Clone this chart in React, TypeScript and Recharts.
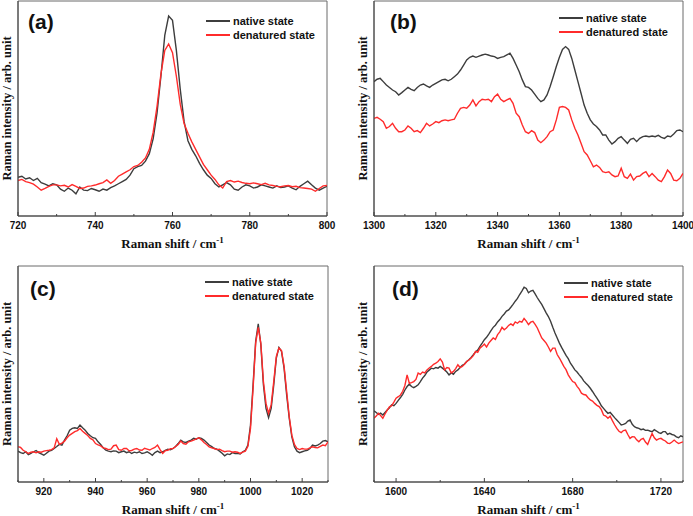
import { LineChart, Line, XAxis, YAxis, ReferenceArea, Legend } from 'recharts'

// sampling grid of each spectrum (1 cm-1 steps)
const span = (from: number, to: number) => Array.from({ length: to - from + 1 }, (_, i) => from + i)

// (a) 720-800 cm-1
const shiftA = span(720, 800)
const nativeA = [
  18.0, 18.5, 17.2, 17.8, 16.5, 17.5, 15.5, 14.8, 14.0, 15.0,
  14.5, 12.5, 11.5, 13.0, 12.0, 10.3, 13.5, 12.0, 11.8, 12.8,
  12.2, 11.5, 12.5, 12.0, 13.2, 14.0, 15.0, 16.0, 17.0, 19.0,
  22.0, 23.0, 23.5, 25.5, 29.0, 36.0, 48.0, 65.0, 84.0, 93.0,
  91.0, 77.0, 59.0, 44.0, 35.0, 31.0, 28.0, 24.5, 21.5, 19.0,
  17.5, 15.0, 13.5, 14.5, 15.5, 14.5, 12.5, 12.0, 13.5, 14.5,
  14.0, 13.0, 13.5, 14.5, 14.0, 13.5, 13.0, 14.0, 13.2, 13.5,
  14.0, 13.0, 12.2, 13.8, 15.0, 16.2, 14.5, 13.0, 12.0, 13.0,
  13.8,
]
const denaturedA = [
  16.5, 17.0, 16.0, 15.5, 14.8, 13.5, 12.0, 12.8, 13.8, 14.5,
  14.5, 14.0, 14.3, 13.5, 14.6, 13.8, 12.8, 13.0, 13.8, 14.0,
  14.4, 15.0, 15.5, 16.8, 15.2, 16.5, 18.5, 19.5, 20.5, 21.5,
  23.0, 23.5, 25.0, 27.0, 31.0, 39.0, 51.0, 66.0, 77.0, 80.0,
  76.0, 65.0, 52.0, 43.0, 38.5, 34.5, 31.0, 27.5, 24.0, 21.5,
  19.0, 17.0, 14.5, 13.0, 16.0, 16.5, 15.8, 16.2, 15.6, 15.2,
  15.0, 15.4, 15.0, 14.6, 15.2, 14.5, 14.2, 13.8, 13.6, 14.0,
  14.2, 13.6, 13.8, 13.2, 13.0, 12.8, 12.5, 11.5, 12.8, 14.0,
  14.2,
]
const ticksA = [720, 730, 740, 750, 760, 770, 780, 790, 800]
const majorA = [720, 740, 760, 780, 800]

// (b) 1300-1400 cm-1
const shiftB = span(1300, 1400)
const nativeB = [
  62.5, 63.6, 64.0, 62.5, 60.9, 59.8, 58.6, 57.8, 56.3, 57.4,
  58.6, 59.8, 58.9, 58.3, 59.8, 60.9, 61.4, 60.5, 59.8, 60.9,
  61.7, 62.5, 63.3, 63.6, 62.9, 63.6, 64.8, 66.0, 67.9, 70.2,
  72.6, 73.8, 74.4, 73.8, 74.4, 74.9, 75.3, 74.9, 74.4, 74.1,
  73.3, 73.8, 74.1, 74.9, 75.7, 73.3, 70.2, 67.1, 63.3, 60.2,
  59.8, 58.6, 56.7, 54.7, 53.2, 54.0, 56.3, 60.2, 64.8, 69.5,
  73.8, 77.5, 78.8, 77.5, 73.3, 67.9, 62.5, 57.1, 51.6, 47.8,
  44.7, 42.8, 41.6, 40.0, 37.7, 37.7, 35.3, 33.5, 34.6, 36.1,
  36.9, 35.3, 33.8, 35.7, 36.1, 34.6, 36.1, 36.9, 37.2, 36.9,
  37.2, 36.9, 37.5, 36.6, 36.1, 37.2, 36.9, 38.1, 39.7, 40.0,
  39.2,
]
const denaturedB = [
  45.4, 45.9, 45.0, 43.9, 40.8, 41.6, 43.1, 40.8, 39.2, 39.2,
  40.0, 41.9, 40.8, 39.2, 39.7, 38.8, 40.8, 43.1, 41.9, 42.8,
  43.9, 43.4, 44.3, 44.7, 44.3, 44.7, 45.0, 47.8, 50.1, 50.5,
  50.1, 51.6, 54.0, 51.2, 53.2, 54.3, 54.0, 54.3, 53.2, 55.5,
  56.7, 54.3, 53.2, 54.0, 54.7, 52.4, 47.8, 46.2, 42.3, 39.2,
  38.4, 39.7, 38.8, 35.3, 34.1, 35.3, 36.9, 39.2, 40.0, 44.7,
  50.5, 50.9, 50.5, 49.3, 44.7, 40.8, 37.7, 33.8, 29.9, 28.4,
  25.7, 22.9, 23.7, 22.6, 20.6, 20.2, 20.6, 19.1, 18.3, 18.6,
  22.2, 18.3, 17.5, 19.5, 16.7, 18.3, 18.6, 19.8, 20.6, 18.3,
  19.8, 18.3, 16.7, 16.0, 18.3, 21.4, 19.8, 16.7, 16.4, 17.5,
  19.8,
]
const ticksB = [1300, 1310, 1320, 1330, 1340, 1350, 1360, 1370, 1380, 1390, 1400]
const majorB = [1300, 1320, 1340, 1360, 1380, 1400]

// (c) 910-1030 cm-1
const shiftC = span(910, 1030)
const nativeC = [
  14.3, 13.6, 13.2, 14.0, 12.7, 13.3, 14.0, 14.6, 13.6, 13.0,
  12.4, 13.3, 14.3, 14.6, 15.5, 16.4, 17.4, 17.1, 19.4, 21.4,
  24.0, 24.8, 25.1, 24.8, 26.4, 25.1, 24.0, 22.5, 21.4, 20.5,
  20.2, 18.6, 17.4, 15.8, 14.7, 14.3, 14.0, 14.4, 14.3, 13.6,
  14.0, 14.3, 13.6, 14.0, 13.2, 13.8, 13.5, 14.0, 13.2, 13.5,
  14.0, 13.3, 12.4, 13.6, 14.3, 13.6, 14.0, 14.6, 15.2, 14.9,
  15.5, 16.4, 17.8, 19.4, 18.6, 18.3, 18.9, 19.4, 20.2, 19.8,
  20.5, 20.2, 19.4, 18.3, 17.1, 16.4, 15.5, 15.2, 14.3, 13.3,
  12.1, 13.0, 12.7, 13.6, 13.2, 13.3, 13.0, 14.0, 14.7, 17.1,
  26.4, 45.0, 65.1, 73.2, 63.6, 45.0, 34.1, 29.8, 34.1, 45.0,
  57.4, 62.3, 60.5, 52.7, 40.3, 29.5, 20.9, 16.3, 14.3, 13.6,
  14.0, 14.4, 14.7, 15.5, 17.1, 16.7, 17.1, 17.8, 18.9, 19.2,
  18.6,
]
const denaturedC = [
  16.3, 16.0, 14.7, 14.0, 13.2, 13.8, 14.0, 13.5, 14.0, 13.8,
  14.3, 14.5, 14.7, 15.0, 15.8, 20.0, 17.4, 18.0, 18.9, 20.5,
  21.7, 22.5, 23.3, 23.8, 24.8, 23.5, 22.5, 21.5, 20.2, 19.5,
  17.8, 17.2, 16.7, 15.8, 15.5, 15.0, 15.2, 16.8, 17.1, 15.0,
  14.7, 15.5, 15.5, 14.5, 14.6, 15.2, 15.5, 14.8, 14.7, 15.6,
  15.2, 14.8, 15.5, 16.0, 17.1, 15.0, 13.2, 14.5, 14.7, 15.4,
  15.5, 16.4, 17.4, 19.0, 17.8, 17.5, 18.6, 18.9, 19.4, 20.0,
  20.5, 19.5, 18.3, 17.4, 16.3, 15.8, 15.5, 15.0, 15.2, 14.5,
  14.0, 14.3, 14.3, 13.8, 14.0, 13.8, 13.2, 13.8, 14.3, 16.5,
  24.8, 43.4, 64.3, 71.6, 64.3, 46.5, 36.4, 31.8, 35.7, 46.5,
  58.1, 62.0, 60.8, 53.5, 41.9, 30.2, 21.7, 17.4, 15.5, 15.0,
  15.5, 15.2, 15.2, 15.8, 16.3, 16.0, 15.8, 16.5, 17.1, 16.8,
  18.6,
]
const ticksC = [910, 920, 930, 940, 950, 960, 970, 980, 990, 1000, 1010, 1020, 1030]
const majorC = [920, 940, 960, 980, 1000, 1020]

// (d) 1590-1730 cm-1
const shiftD = span(1590, 1730)
const nativeD = [
  32.9, 32.2, 31.3, 31.9, 31.0, 32.2, 33.3, 34.4, 35.7, 35.3,
  36.4, 37.8, 39.1, 40.6, 42.6, 44.2, 45.3, 44.2, 43.7, 44.3,
  45.0, 46.5, 48.1, 49.3, 50.9, 51.8, 52.7, 52.4, 53.0, 52.7,
  53.5, 52.7, 51.9, 50.9, 49.6, 50.5, 49.9, 51.2, 51.9, 53.0,
  54.0, 54.6, 55.8, 56.6, 57.7, 58.9, 60.2, 61.1, 62.8, 64.3,
  65.9, 67.0, 68.5, 70.1, 71.6, 72.6, 74.1, 75.2, 76.7, 77.8,
  79.1, 79.7, 80.9, 82.2, 83.7, 85.0, 86.8, 88.4, 90.2, 89.6,
  87.6, 88.4, 88.7, 87.1, 85.3, 83.7, 82.2, 80.3, 78.3, 76.6,
  74.4, 71.6, 69.0, 66.7, 64.3, 62.3, 60.5, 58.6, 57.1, 55.0,
  53.5, 51.9, 50.9, 49.6, 48.4, 46.8, 45.7, 44.7, 43.4, 41.9,
  40.3, 38.8, 37.2, 35.3, 34.1, 32.9, 31.8, 32.2, 31.0, 29.8,
  28.7, 27.6, 26.4, 26.7, 27.1, 28.2, 28.7, 26.7, 25.6, 25.1,
  24.8, 24.2, 24.5, 23.9, 24.0, 23.6, 23.3, 24.2, 23.6, 22.9,
  22.5, 23.3, 23.3, 22.0, 22.5, 22.0, 21.7, 20.9, 20.5, 21.4,
  20.9,
]
const denaturedD = [
  29.5, 30.5, 31.8, 30.8, 29.5, 31.5, 33.3, 34.8, 35.3, 37.0,
  38.8, 39.5, 40.3, 42.0, 44.7, 49.6, 45.7, 46.0, 46.5, 47.5,
  50.4, 49.8, 50.9, 50.5, 51.9, 52.8, 53.5, 54.5, 55.0, 55.8,
  57.0, 55.5, 51.9, 53.0, 52.7, 50.5, 51.2, 52.5, 54.3, 53.0,
  53.5, 54.5, 55.8, 56.5, 57.4, 58.5, 60.5, 60.0, 62.0, 62.8,
  63.9, 62.5, 64.3, 65.5, 66.7, 66.0, 68.2, 69.5, 71.6, 70.5,
  71.3, 72.5, 73.2, 72.5, 74.1, 73.5, 74.4, 74.0, 75.7, 74.5,
  72.9, 74.0, 74.4, 73.0, 71.3, 69.0, 66.7, 65.5, 64.3, 62.5,
  60.5, 62.0, 62.0, 59.0, 57.4, 55.5, 53.5, 52.0, 49.6, 48.0,
  46.5, 46.0, 44.3, 43.0, 41.1, 40.5, 40.3, 39.0, 38.0, 37.5,
  36.4, 35.5, 34.9, 33.5, 31.0, 30.5, 29.5, 30.5, 28.4, 26.5,
  24.8, 23.5, 22.9, 23.8, 24.0, 22.0, 20.2, 21.0, 20.9, 19.5,
  18.6, 19.8, 20.2, 18.5, 17.4, 20.0, 22.5, 20.5, 19.4, 20.0,
  20.2, 19.5, 19.0, 18.0, 17.8, 18.5, 19.4, 18.5, 17.8, 18.2,
  18.6,
]
const ticksD = [1590, 1600, 1620, 1640, 1660, 1680, 1700, 1720, 1730]
const majorD = [1600, 1640, 1680, 1720]

const seriesNames = ['native state', 'denatured state']

const SANS = '"Liberation Sans", Arial, sans-serif'
const SERIF = '"Liberation Serif", "Times New Roman", serif'
const AXIS = '#404040'
const FRAME = '#6a6a6a'
const NATIVE = '#3d3d3d'
const DENATURED = '#ff2b2b'

type PanelProps = {
  tag: string
  shift: number[]
  native: number[]
  denatured: number[]
  ticks: number[]
  major: number[]
  left: number
  top: number
  width: number
  height: number
  margin: { top: number; right: number; bottom: number; left: number }
  yWidth: number
  tagX: number
  tagY: number
  legendX: number
  legendY: number
}

const makeTick = (major: number[]) => (props: any) => {
  const { x, y, payload } = props
  const isMajor = major.includes(payload.value)
  return (
    <g>
      <line x1={x} x2={x} y1={y} y2={y - (isMajor ? 4 : 2)} stroke={AXIS} />
      {isMajor && (
        <text x={x} y={y + 12.5} textAnchor="middle" fontSize={10} fontWeight="bold" fontFamily={SANS} fill="#111">
          {payload.value}
        </text>
      )}
    </g>
  )
}

const xTitle = (props: any) => {
  const vb = props.viewBox
  return (
    <text x={vb.x + vb.width / 2} y={vb.y + 32} textAnchor="middle" fontSize={13} fontWeight="bold" fontFamily={SERIF} fill="#111">
      Raman shift / cm<tspan dy={-5} fontSize={9}>-1</tspan>
    </text>
  )
}

const yTitle = (props: any) => {
  const vb = props.viewBox
  const x = vb.x + vb.width - 7.5
  const y = vb.y + vb.height / 2
  return (
    <text x={x} y={y} transform={`rotate(-90, ${x}, ${y})`} textAnchor="middle" fontSize={12.5} fontWeight="bold" fontFamily={SERIF} fill="#111">
      Raman intensity / arb. unit
    </text>
  )
}

const legendBox = (props: any) => {
  const items = [...(props.payload || [])].sort(
    (a: any, b: any) => seriesNames.indexOf(a.value) - seriesNames.indexOf(b.value),
  )
  return (
    <svg width={140} height={30}>
      {items.map((item: any, i: number) => (
        <g key={item.value}>
          <line x1={0} x2={24} y1={7 + i * 14} y2={7 + i * 14} stroke={item.color} strokeWidth={2} />
          <text x={27} y={7 + i * 14} dy="0.35em" fontSize={11} fontWeight="bold" fontFamily={SANS} fill="#111">
            {item.value}
          </text>
        </g>
      ))}
    </svg>
  )
}

function Panel(p: PanelProps) {
  const data = p.shift.map((s, i) => ({ shift: s, native: p.native[i], denatured: p.denatured[i] }))
  const lo = p.shift[0]
  const hi = p.shift[p.shift.length - 1]
  return (
    <div style={{ position: 'absolute', left: p.left, top: p.top, width: p.width, height: p.height }}>
      <LineChart width={p.width} height={p.height} data={data} margin={p.margin}>
        <XAxis
          dataKey="shift"
          type="number"
          domain={[lo, hi]}
          allowDataOverflow
          ticks={p.ticks}
          interval={0}
          height={30}
          tickSize={0}
          tickMargin={0}
          tickLine={false}
          axisLine={{ stroke: AXIS }}
          tick={makeTick(p.major)}
          label={xTitle}
        />
        <YAxis
          type="number"
          domain={[0, 100]}
          width={p.yWidth}
          tick={false}
          tickLine={false}
          axisLine={{ stroke: AXIS }}
          label={yTitle}
        />
        <ReferenceArea x1={lo} x2={hi} y1={0} y2={100} fill="none" stroke={FRAME} />
        <Line
          type="linear"
          dataKey="native"
          name={seriesNames[0]}
          stroke={NATIVE}
          strokeWidth={1.4}
          dot={false}
          isAnimationActive={false}
        />
        <Line
          type="linear"
          dataKey="denatured"
          name={seriesNames[1]}
          stroke={DENATURED}
          strokeWidth={1.4}
          dot={false}
          isAnimationActive={false}
        />
        <Legend
          layout="vertical"
          align="center"
          verticalAlign="middle"
          content={legendBox}
          wrapperStyle={{ left: p.legendX, top: p.legendY, width: 140, height: 30 }}
        />
      </LineChart>
      <svg width={p.width} height={p.height} style={{ position: 'absolute', left: 0, top: 0, pointerEvents: 'none' }}>
        <text x={p.tagX} y={p.tagY} fontSize={21} fontWeight="bold" fontFamily={SANS} fill="#111">
          {p.tag}
        </text>
      </svg>
    </div>
  )
}

export default function App() {
  return (
    <div style={{ position: 'absolute', left: 0, top: 0, width: 693, height: 516, background: '#fff' }}>
      <Panel
        tag="(a)" shift={shiftA} native={nativeA} denatured={denaturedA} ticks={ticksA} major={majorA}
        left={0} top={0} width={346} height={258}
        margin={{ top: 1, right: 19, bottom: 12, left: 0 }} yWidth={18}
        tagX={28} tagY={29} legendX={206} legendY={13.5}
      />
      <Panel
        tag="(b)" shift={shiftB} native={nativeB} denatured={denaturedB} ticks={ticksB} major={majorB}
        left={346} top={0} width={347} height={258}
        margin={{ top: 1, right: 10, bottom: 12, left: 0 }} yWidth={28}
        tagX={44} tagY={29} legendX={213} legendY={11.3}
      />
      <Panel
        tag="(c)" shift={shiftC} native={nativeC} denatured={denaturedC} ticks={ticksC} major={majorC}
        left={0} top={258} width={346} height={258}
        margin={{ top: 8, right: 18, bottom: 4, left: 0 }} yWidth={18}
        tagX={30} tagY={38} legendX={205} legendY={16.7}
      />
      <Panel
        tag="(d)" shift={shiftD} native={nativeD} denatured={denaturedD} ticks={ticksD} major={majorD}
        left={346} top={258} width={347} height={258}
        margin={{ top: 8, right: 10, bottom: 4, left: 0 }} yWidth={28}
        tagX={46} tagY={38} legendX={218} legendY={18.3}
      />
    </div>
  )
}
